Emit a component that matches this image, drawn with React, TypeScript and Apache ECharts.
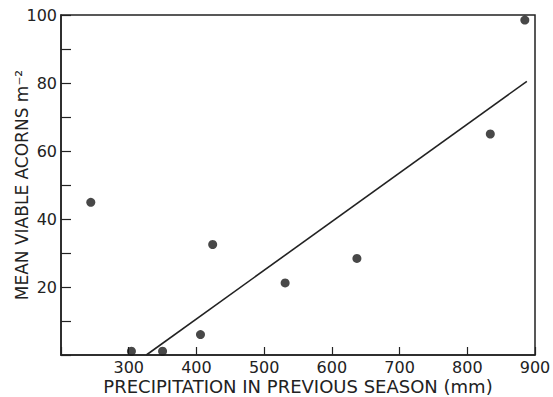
import React, { useEffect, useRef } from "react";
import * as echarts from "echarts";

const precipitation = [244, 304, 350, 406, 424, 531, 637, 834, 885];
const acorns = [44.9, 1.1, 1.1, 6.0, 32.5, 21.2, 28.4, 65, 98.5];
const fitX = [326, 888];
const fitY = [0, 80.5];
const xTicks = [300, 400, 500, 600, 700, 800, 900];
const yTicks = [20, 40, 60, 80, 100];

const FONT = "DejaVu Sans";
const INK = "#222";

export default function App() {
  const ref = useRef<HTMLDivElement>(null);
  useEffect(() => {
    if (!ref.current) return;
    const chart = echarts.init(ref.current, undefined, { renderer: "svg" });
    chart.setOption({
      animation: false,
      backgroundColor: "#fff",
      grid: {
        left: 61,
        top: 15,
        right: 18,
        bottom: 42,
        outerBoundsMode: "none",
        containLabel: false,
        show: true,
        borderColor: INK,
        borderWidth: 1.5,
      },
      xAxis: {
        type: "value",
        min: 200,
        max: 900,
        interval: 100,
        name: "PRECIPITATION IN PREVIOUS SEASON (mm)",
        nameLocation: "middle",
        nameGap: 22,
        nameMoveOverlap: false,
        nameTextStyle: { fontFamily: FONT, fontSize: 18, lineHeight: 18, color: INK },
        axisLine: { show: true, lineStyle: { color: INK, width: 1.5 } },
        axisTick: { show: true, inside: true, length: 8, lineStyle: { color: INK, width: 1.2 } },
        axisLabel: {
          fontFamily: FONT,
          fontSize: 16,
          lineHeight: 16,
          color: INK,
          margin: 4,
          formatter: (v: number) => (xTicks.includes(v) ? String(v) : ""),
        },
        splitLine: { show: false },
      },
      yAxis: {
        type: "value",
        min: 0,
        max: 100,
        interval: 20,
        name: "MEAN VIABLE ACORNS m⁻²",
        nameLocation: "middle",
        nameGap: 31,
        nameMoveOverlap: false,
        nameTextStyle: { fontFamily: FONT, fontSize: 17, lineHeight: 17, color: INK },
        axisLine: { show: true, lineStyle: { color: INK, width: 1.5 } },
        axisTick: { show: true, inside: true, length: 10, lineStyle: { color: INK, width: 1.2 } },
        minorTick: { show: true, splitNumber: 2, length: 10, lineStyle: { color: INK, width: 1.2 } },
        axisLabel: {
          fontFamily: FONT,
          fontSize: 16,
          color: INK,
          margin: 4,
          formatter: (v: number) => (yTicks.includes(v) ? String(v) : ""),
        },
        splitLine: { show: false },
      },
      series: [
        {
          type: "line",
          data: fitX.map((x, i) => [x, fitY[i]]),
          showSymbol: false,
          symbol: "none",
          lineStyle: { color: INK, width: 1.6 },
          silent: true,
        },
        {
          type: "scatter",
          data: precipitation.map((x, i) => [x, acorns[i]]),
          symbol: "circle",
          symbolSize: 9,
          itemStyle: { color: "#1a1a1a" },
          clip: false,
        },
      ],
    });
    return () => chart.dispose();
  }, []);
  return (
    <div
      ref={ref}
      style={{ position: "fixed", left: 0, top: 0, width: 553, height: 397 }}
    />
  );
}
